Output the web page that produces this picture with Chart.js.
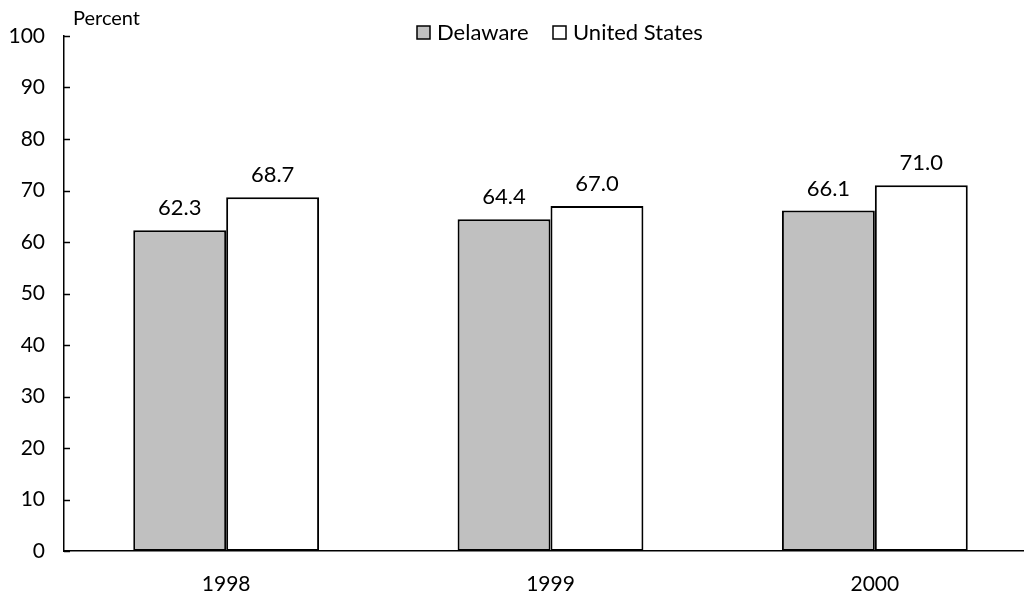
<!DOCTYPE html>
<html>
<head>
<meta charset="utf-8">
<script src="https://cdn.jsdelivr.net/npm/chart.js@4.4.0/dist/chart.umd.min.js"></script>
<style>
	html, body { margin: 0; padding: 0; background: #fff; overflow: hidden; }
	#wrap { position: relative; width: 1040px; height: 594px; }
</style>
</head>
<body>
<div id="wrap"><canvas id="mychart" width="1040" height="594"></canvas></div>
<script>
const years = ["1998", "1999", "2000"];
const delaware = [62.3, 64.4, 66.1];
const unitedStates = [68.7, 67.0, 71.0];
const seriesNames = ["Delaware", "United States"];
const yTicks = [0, 10, 20, 30, 40, 50, 60, 70, 80, 90, 100];

const fontFamily = "Lato, 'Open Sans', sans-serif";

// value labels above each bar
const barLabels = {
	id: "barLabels",
	afterDatasetsDraw(chart) {
		const ctx = chart.ctx;
		ctx.save();
		ctx.fillStyle = "#000";
		ctx.font = "22px " + fontFamily;
		ctx.textAlign = "center";
		ctx.textBaseline = "middle";
		chart.data.datasets.forEach((ds, i) => {
			chart.getDatasetMeta(i).data.forEach((bar, j) => {
				ctx.fillText(ds.data[j].toFixed(1), bar.x, bar.y - 22);
			});
		});
		ctx.restore();
	}
};

// inward tick marks, "Percent" and the legend
const extras = {
	id: "extras",
	afterDraw(chart) {
		const ctx = chart.ctx;
		const y = chart.scales.y;
		const left = chart.chartArea.left;
		ctx.save();
		ctx.strokeStyle = "#000";
		ctx.lineWidth = 1.5;
		yTicks.forEach(v => {
			const py = Math.round(y.getPixelForValue(v)) + 0.5;
			ctx.beginPath();
			ctx.moveTo(left, py);
			ctx.lineTo(left + 6, py);
			ctx.stroke();
		});

		ctx.fillStyle = "#000";
		ctx.font = "20px " + fontFamily;
		ctx.textBaseline = "middle";
		ctx.textAlign = "left";
		ctx.fillText("Percent", 73, 19);

		const legendX = [417, 553];
		chart.data.datasets.forEach((ds, i) => {
			ctx.fillStyle = ds.backgroundColor;
			ctx.fillRect(legendX[i], 26, 13, 13);
			ctx.lineWidth = 1.5;
			ctx.strokeRect(legendX[i], 26, 13, 13);
			ctx.fillStyle = "#000";
			ctx.font = "22px " + fontFamily;
			ctx.fillText(seriesNames[i], legendX[i] + 20, 33);
		});
		ctx.restore();
	}
};

new Chart("mychart", {
	type: "bar",
	data: {
		labels: years,
		datasets: [{
				label: seriesNames[0],
				data: delaware,
				backgroundColor: "#c0c0c0",
				borderColor: "#000",
				borderWidth: 2,
				borderSkipped: false,
				barPercentage: 1,
				categoryPercentage: 0.573
			},
			{
				label: seriesNames[1],
				data: unitedStates,
				backgroundColor: "#ffffff",
				borderColor: "#000",
				borderWidth: 2,
				borderSkipped: false,
				barPercentage: 1,
				categoryPercentage: 0.573
			}
		]
	},
	options: {
		responsive: false,
		maintainAspectRatio: false,
		animation: false,
		layout: { padding: { top: 36, right: 3, left: 0, bottom: 0 } },
		plugins: {
			legend: { display: false },
			tooltip: { enabled: false }
		},
		scales: {
			x: {
				grid: { display: false, drawTicks: false },
				border: { display: true, color: "#000", width: 1.5 },
				ticks: {
					color: "#000",
					font: { family: fontFamily, size: 21 },
					padding: 21
				},
				afterFit: s => { s.height = 43; }
			},
			y: {
				min: 0,
				max: 100,
				afterBuildTicks: s => { s.ticks = yTicks.map(v => ({ value: v })); },
				grid: { display: false, drawTicks: false },
				border: { display: true, color: "#000", width: 1.5 },
				ticks: {
					color: "#000",
					autoSkip: false,
					font: { family: fontFamily, size: 21 },
					padding: 19
				},
				afterFit: s => { s.width = 64; }
			}
		}
	},
	plugins: [barLabels, extras]
});
</script>
</body>
</html>
